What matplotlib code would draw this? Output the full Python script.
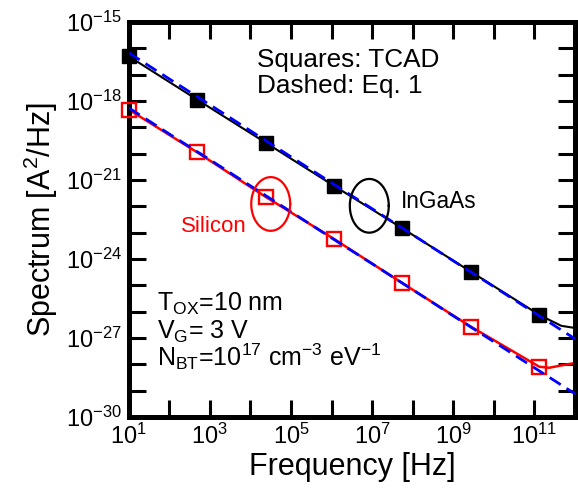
import matplotlib
matplotlib.use('Agg')
import matplotlib.pyplot as plt
import numpy as np

plt.rcParams['font.family'] = ['Liberation Sans', 'DejaVu Sans']
plt.rcParams['mathtext.fontset'] = 'custom'
plt.rcParams['mathtext.rm'] = 'Liberation Sans'
plt.rcParams['mathtext.it'] = 'Liberation Sans:italic'
plt.rcParams['mathtext.bf'] = 'Liberation Sans:bold'

# TCAD sample points (squares)
FREQ_TCAD = [1e1, 4.9e2, 2.36e4, 1.15e6, 5.6e7, 2.7e9, 1.32e11]
INGAAS_TCAD = [5.0e-17, 1.12e-18, 2.63e-20, 6.0e-22, 1.45e-23, 3.3e-25, 7.6e-27]
SILICON_TCAD = [4.7e-19, 1.12e-20, 2.3e-22, 5.75e-24, 1.2e-25, 2.7e-27, 8.1e-29]

# continuous TCAD spectra (solid)
FREQ_CURVE = [1e1, 4.9e2, 2.36e4, 1.15e6, 5.6e7, 2.7e9, 1.32e11, 2.3e11, 4.6e11, 1e12]
INGAAS_CURVE = [5.0e-17, 1.12e-18, 2.63e-20, 6.0e-22, 1.45e-23, 3.3e-25, 7.6e-27,
                4.9e-27, 2.9e-27, 2.4e-27]
SILICON_CURVE = [4.7e-19, 1.12e-20, 2.3e-22, 5.75e-24, 1.2e-25, 2.7e-27, 8.1e-29,
                 7.4e-29, 9.1e-29, 1.12e-28]

# Eq. 1 (dashed)
FREQ_EQ1 = [1e1, 1e2, 1e3, 1e4, 1e5, 1e6, 1e7, 1e8, 1e9, 1e10, 1e11, 1e12]
INGAAS_EQ1 = [6.8e-17, 6.9e-18, 7.2e-19, 7.4e-20, 7.6e-21, 7.8e-22, 8.1e-23,
              8.3e-24, 8.5e-25, 8.9e-26, 9.1e-27, 9.3e-28]
SILICON_EQ1 = [5.5e-19, 5.6e-20, 5.9e-21, 6.0e-22, 6.2e-23, 6.3e-24, 6.6e-25,
               6.8e-26, 6.9e-27, 7.2e-28, 7.4e-29, 7.6e-30]

X_LABEL_EXPS = [1, 3, 5, 7, 9, 11]
Y_LABEL_EXPS = [-30, -27, -24, -21, -18, -15]

XMIN, XMAX = 1, 12      # decades
YMIN, YMAX = -30, -15

fig = plt.figure(figsize=(5.78, 4.97), dpi=100)
ax = fig.add_axes([128.7 / 578, 1 - 417 / 497, (575 - 128.7) / 578, (417 - 22) / 497])

ax.plot(FREQ_CURVE, INGAAS_CURVE, color='black', lw=1.5, zorder=2)
ax.plot(FREQ_CURVE, SILICON_CURVE, color='red', lw=1.8, zorder=2)
ax.plot(FREQ_TCAD, INGAAS_TCAD, ls='none', marker='s', ms=10.5, color='black',
        zorder=3, clip_on=False)
ax.plot(FREQ_TCAD, SILICON_TCAD, ls='none', marker='s', ms=9.5, mfc='none', mec='red',
        mew=1.7, zorder=3, clip_on=False)
ax.plot(FREQ_EQ1, INGAAS_EQ1, color='blue', lw=2, dashes=(4.7, 2.5), zorder=4)
ax.plot(FREQ_EQ1, SILICON_EQ1, color='blue', lw=2, dashes=(4.7, 2.5), zorder=4)

ax.set_xscale('log')
ax.set_yscale('log')
ax.set_xlim(10.0 ** XMIN, 10.0 ** XMAX)
ax.set_ylim(10.0 ** YMIN, 10.0 ** YMAX)

x_exps = list(range(XMIN, XMAX))
y_exps = list(range(YMIN, YMAX + 1))
ax.set_xticks([10.0 ** e for e in x_exps])
ax.set_xticklabels([r'$\mathregular{10^{%d}}$' % e if e in X_LABEL_EXPS else ''
                    for e in x_exps])
ax.set_yticks([10.0 ** e for e in y_exps])
ax.set_yticklabels([r'$\mathregular{10^{%d}}$' % e if e in Y_LABEL_EXPS else ''
                    for e in y_exps])
ax.minorticks_off()
ax.tick_params(axis='both', which='major', direction='in', length=12, width=2.2,
               top=True, right=True, bottom=True, left=True,
               labelsize=17, pad=5)
for s in ax.spines.values():
    s.set_linewidth(3.6)

ax.set_xlabel('Frequency [Hz]', fontsize=22, labelpad=2)
ax.set_ylabel(r'Spectrum [A$\mathregular{^2}$/Hz]', fontsize=22, labelpad=4)

# highlight ellipses, drawn in log-decade space
t = np.linspace(0, 2 * np.pi, 200)
for cx, cy, col in [(4.50, -21.91, 'red'), (6.93, -21.98, 'black')]:
    ax.plot(10 ** (cx + 0.48 * np.cos(t)), 10 ** (cy + 1.02 * np.sin(t)),
            color=col, lw=1.6, zorder=5)


def px(x, y):
    # pixel position inside the axes box -> axes fraction
    return (x - 128.7) / 446.3, (417 - y) / 395


ax.text(*px(181, 232), 'Silicon', color='red', fontsize=16, transform=ax.transAxes,
        va='baseline')
ax.text(*px(401, 208), 'InGaAs', fontsize=16.3, transform=ax.transAxes, va='baseline')
ax.text(*px(257, 66.5), 'Squares: TCAD', fontsize=18.8,
        transform=ax.transAxes, va='baseline')
ax.text(*px(257, 92.5), 'Dashed: Eq. 1', fontsize=18.8,
        transform=ax.transAxes, va='baseline')
ax.text(*px(157, 311), r'T$\mathregular{_{OX}}$=10 nm', fontsize=18,
        transform=ax.transAxes, va='baseline')
ax.text(*px(157, 339), r'V$\mathregular{_G}$= 3 V', fontsize=18,
        transform=ax.transAxes, va='baseline')
ax.text(*px(157, 366),
        r'N$\mathregular{_{BT}}$=10$\mathregular{^{17}}$ cm$\mathregular{^{-3}}$ eV$\mathregular{^{-1}}$',
        fontsize=18, transform=ax.transAxes, va='baseline')

fig.savefig('out.png', dpi=100)
